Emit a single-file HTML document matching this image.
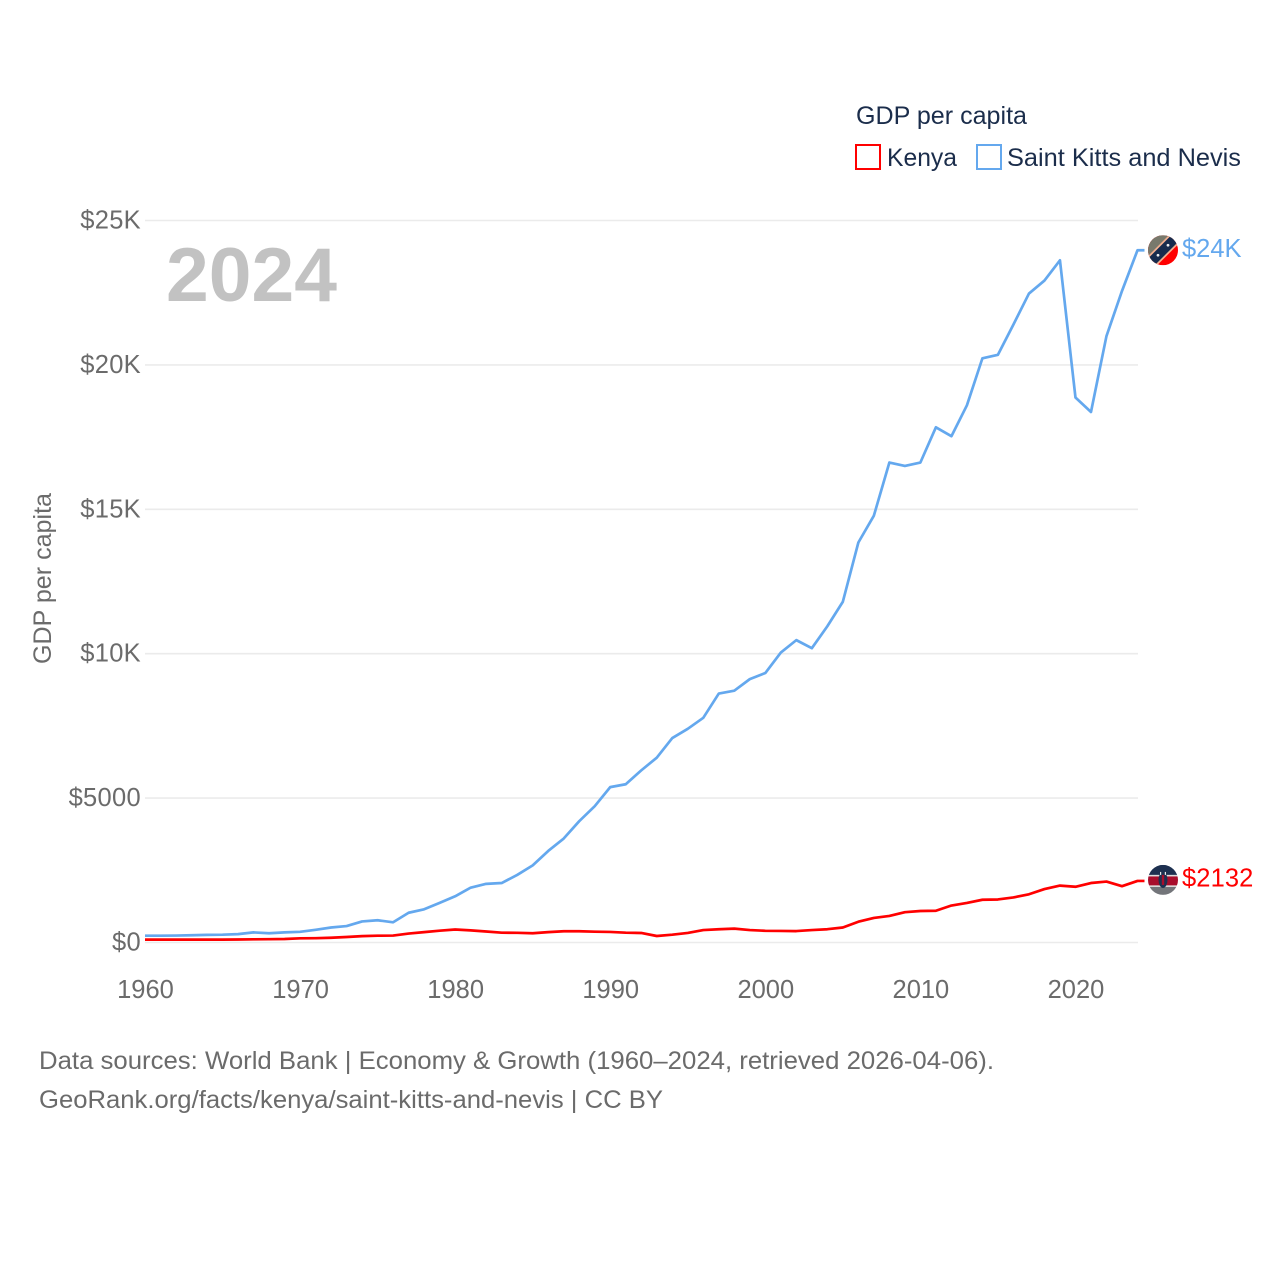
<!DOCTYPE html>
<html lang="en">
<head>
<meta charset="utf-8">
<title>GDP per capita: Kenya and Saint Kitts and Nevis</title>
<style>
html,body{margin:0;padding:0;background:#fff;}
svg{display:block;font-family:"Liberation Sans",sans-serif;}
</style>
</head>
<body>
<svg id="chart" width="1280" height="1280" viewBox="0 0 1280 1280" xmlns="http://www.w3.org/2000/svg">
  <defs>
    <clipPath id="flag-clip"><circle cx="0" cy="0" r="15"/></clipPath>
  </defs>
  <g id="grid"></g>
  <text x="166" y="301" font-size="76" font-weight="700" fill="#c2c2c2" textLength="171" lengthAdjust="spacingAndGlyphs">2024</text>
  <g id="y-axis"></g>
  <g id="x-axis"></g>
  <text transform="translate(51,664) rotate(-90)" font-size="25" fill="#6b6b6b" textLength="171" lengthAdjust="spacingAndGlyphs">GDP per capita</text>
  <g id="series"></g>
  <g id="ends"></g>
  <g>
    <text x="856" y="124" font-size="25" fill="#1b2d4b" textLength="171" lengthAdjust="spacingAndGlyphs">GDP per capita</text>
    <rect x="856" y="145" width="24" height="24" fill="none" stroke="#ff0000" stroke-width="2"/>
    <text x="887" y="166" font-size="25" fill="#1b2d4b" textLength="70" lengthAdjust="spacingAndGlyphs">Kenya</text>
    <rect x="977" y="145" width="24" height="24" fill="none" stroke="#64a8ee" stroke-width="2"/>
    <text x="1007" y="166" font-size="25" fill="#1b2d4b" textLength="234" lengthAdjust="spacingAndGlyphs">Saint Kitts and Nevis</text>
  </g>
  <g>
    <text x="39" y="1069" font-size="25" fill="#6b6b6b" textLength="955" lengthAdjust="spacingAndGlyphs">Data sources: World Bank | Economy &amp; Growth (1960–2024, retrieved 2026-04-06).</text>
    <text x="39" y="1108" font-size="25" fill="#6b6b6b" textLength="624" lengthAdjust="spacingAndGlyphs">GeoRank.org/facts/kenya/saint-kitts-and-nevis | CC BY</text>
  </g>
</svg>
<script>
var firstYear = 1960;
var kenyaValues = [100,100,100,100,100,100,105,110,115,120,145,150,165,190,220,235,240,310,360,410,450,420,380,340,335,320,360,390,390,375,365,340,330,225,270,330,430,460,480,430,405,400,395,430,460,520,720,850,920,1050,1090,1100,1280,1370,1480,1490,1560,1670,1850,1970,1930,2060,2110,1950,2132];
var kittsValues = [235,235,240,250,265,270,290,350,320,350,370,440,520,570,730,770,700,1030,1150,1370,1600,1900,2030,2060,2340,2670,3170,3600,4200,4720,5380,5480,5960,6400,7080,7400,7780,8620,8720,9120,9330,10040,10470,10190,10950,11800,13850,14780,16620,16500,16620,17840,17530,18600,20230,20350,21400,22470,22920,23620,18870,18370,21000,22560,23970];
var yTickValues = [0,5000,10000,15000,20000,25000];
var yTickLabels = ["$0","$5000","$10K","$15K","$20K","$25K"];
var xTickValues = [1960,1970,1980,1990,2000,2010,2020];
var endLabels = ["$2132","$24K"];

var NS = "http://www.w3.org/2000/svg";
function xScale(year){ return 145 + (year - 1960) * (1137.5 - 145) / 64; }
function yScale(v){ return 942.5 - v * (942.5 - 220.5) / 25000; }
function make(tag, attrs, parent){
  var el = document.createElementNS(NS, tag);
  for (var k in attrs) el.setAttribute(k, attrs[k]);
  parent.appendChild(el);
  return el;
}
var grid = document.getElementById("grid");
var yAxis = document.getElementById("y-axis");
var xAxis = document.getElementById("x-axis");
var seriesG = document.getElementById("series");
var ends = document.getElementById("ends");

yTickValues.forEach(function(v, i){
  var line = make("line", {x1:145, x2:1138, y1:yScale(v), y2:yScale(v), stroke:"#ebebeb", "stroke-width":1.6}, grid);
  
  
  var t = make("text", {x:141, y:yScale(v)+8, "text-anchor":"end", "font-size":25.5, "letter-spacing":0.3, fill:"#6b6b6b"}, yAxis);
  t.textContent = yTickLabels[i];
  
  
});
xTickValues.forEach(function(y){
  var t = make("text", {x:xScale(y)+0.5, y:998, "text-anchor":"middle", "font-size":25.5, fill:"#6b6b6b"}, xAxis);
  t.textContent = String(y);
  
  
});
function linePath(vals){
  var d = "";
  vals.forEach(function(v, i){
    d += (i ? "L" : "M") + xScale(firstYear + i).toFixed(2) + " " + yScale(v).toFixed(2);
  });
  d += "h7";
  return d;
}
var kenyaLine = make("path", {d:linePath(kenyaValues), fill:"none", stroke:"#ff0000", "stroke-width":2.7, "stroke-linejoin":"round"}, seriesG);


var kittsLine = make("path", {d:linePath(kittsValues), fill:"none", stroke:"#64a8ee", "stroke-width":2.7, "stroke-linejoin":"round"}, seriesG);



function flagGroup(v, dy){
  var g = make("g", {transform:"translate(1163," + (yScale(v) + dy).toFixed(2) + ")"}, ends);
  return make("g", {"clip-path":"url(#flag-clip)"}, g);
}
var fk = flagGroup(kenyaValues[kenyaValues.length-1], -1);


make("rect", {x:-15, y:-15, width:30, height:10, fill:"#1d3050"}, fk);
make("rect", {x:-15, y:-5, width:30, height:1.5, fill:"#ddd"}, fk);
make("rect", {x:-15, y:-3.5, width:30, height:9, fill:"#a80d2c"}, fk);
make("rect", {x:-15, y:5.5, width:30, height:1.5, fill:"#ddd"}, fk);
make("rect", {x:-15, y:7, width:30, height:8, fill:"#73757a"}, fk);
make("ellipse", {cx:0, cy:0, rx:4.5, ry:8, fill:"#1d3050"}, fk);
make("rect", {x:-1.2, y:-5, width:2.4, height:10, fill:"#a80d2c"}, fk);
make("rect", {x:-3, y:-8, width:1.2, height:3, fill:"#e8e8e8"}, fk);
make("rect", {x:1.8, y:-8, width:1.2, height:3, fill:"#e8e8e8"}, fk);

var fs = flagGroup(kittsValues[kittsValues.length-1], 0);


make("rect", {x:-15, y:-15, width:30, height:30, fill:"#ff0000"}, fs);
make("polygon", {points:"-15,-15 15,-15 -15,15", fill:"#78796c"}, fs);
make("line", {x1:-15, y1:15, x2:15, y2:-15, stroke:"#f2b090", "stroke-width":13}, fs);
make("line", {x1:-15, y1:15, x2:15, y2:-15, stroke:"#172b4d", "stroke-width":9.5}, fs);
make("circle", {cx:-5, cy:5, r:1.4, fill:"#eee"}, fs);
make("circle", {cx:5, cy:-5, r:1.4, fill:"#eee"}, fs);

var kl = make("text", {x:1182, y:yScale(kenyaValues[kenyaValues.length-1])+5.5, "font-size":25.5, "letter-spacing":0.1, fill:"#ff0000"}, ends);
kl.textContent = endLabels[0];


var sl = make("text", {x:1182, y:yScale(kittsValues[kittsValues.length-1])+7, "font-size":25.5, fill:"#64a8ee"}, ends);
sl.textContent = endLabels[1];


</script>
</body>
</html>
